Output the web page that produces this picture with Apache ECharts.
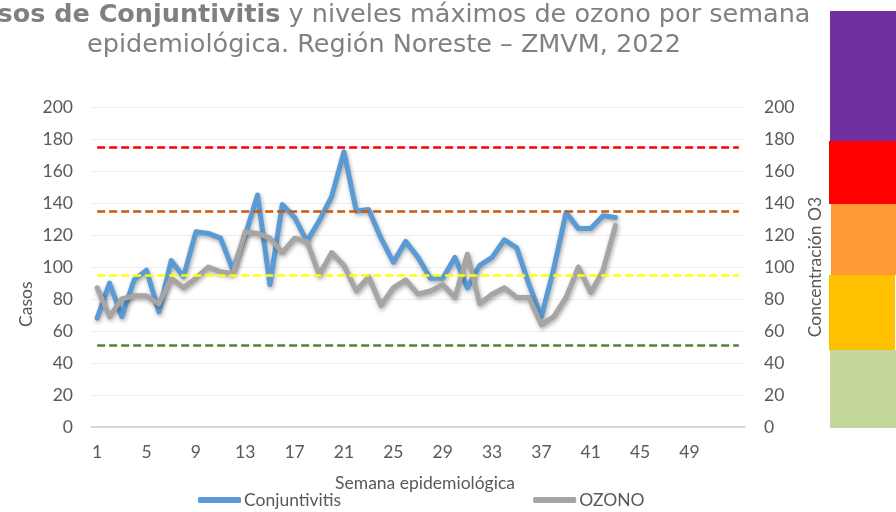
<!DOCTYPE html>
<html>
<head>
<meta charset="utf-8">
<script src="https://cdn.jsdelivr.net/npm/echarts@6/dist/echarts.min.js"></script>
<style>
  html, body { margin: 0; padding: 0; background: #fff; }
  #chart { width: 896px; height: 512px; }
</style>
</head>
<body>
<div id="chart"></div>
<script>
// Semanas epidemiológicas (53 posiciones en el eje)
const weeks = [
  "1", "2", "3", "4", "5", "6", "7", "8", "9", "10", "11", "12", "13", "14",
  "15", "16", "17", "18", "19", "20", "21", "22", "23", "24", "25", "26",
  "27", "28", "29", "30", "31", "32", "33", "34", "35", "36", "37", "38",
  "39", "40", "41", "42", "43", "44", "45", "46", "47", "48", "49", "50",
  "51", "52", "53",
];

const conjuntivitis = [
  68, 90, 69, 92, 98, 72, 104, 94, 122, 121,
  118, 98, 120, 145, 89, 139, 131, 116, 129, 144,
  172, 135, 136, 118, 103, 116, 106, 93, 93, 106,
  87, 101, 106, 117, 112, 89, 69, 99, 134, 124,
  124, 132, 131,
];

const ozono = [
  87, 69, 80, 82, 82, 77, 93, 87, 93, 100,
  97, 96, 122, 121, 118, 109, 118, 116, 95, 109,
  101, 85, 94, 76, 87, 92, 83, 85, 89, 81,
  108, 77, 83, 87, 81, 81, 64, 69, 81, 100,
  84, 98, 126,
];

// umbrales de calidad del aire (líneas punteadas)
const thresholdValues = [51, 95, 135, 175];
const thresholdColors = ["#548235", "#FFFF00", "#C55A11", "#FF0000"];

const axisFont = "Lato";
const axisSize = 17.5;
const labelColor = "#595959";
const titleFont = '25.5px "DejaVu Sans"';

const chart = echarts.init(document.getElementById("chart"), null, {
  renderer: "canvas",
});

const thresholdLines = thresholdValues.map((value, i) => [
  {
    coord: [weeks[0], value],
    lineStyle: { color: thresholdColors[i], width: 2.5, type: [8, 4] },
  },
  { coord: [weeks[weeks.length - 1], value] },
]);

const lineShadow = {
  shadowBlur: 4,
  shadowColor: "rgba(0,0,0,0.35)",
  shadowOffsetX: 1,
  shadowOffsetY: 2,
};

chart.setOption({
  animation: false,
  backgroundColor: "#fff",
  grid: { left: 91, right: 151, top: 107, bottom: 85 },
  graphic: [
    {
      type: "text",
      x: 386,
      y: 2,
      style: {
        text: "{b|Casos de Conjuntivitis} y niveles máximos de ozono por semana",
        align: "center",
        fill: "#808080",
        font: titleFont,
        rich: {
          b: { fontWeight: "bold", fontSize: 25.5, fontFamily: "DejaVu Sans", fill: "#808080" },
        },
      },
    },
    {
      type: "text",
      x: 384,
      y: 32,
      style: {
        text: "epidemiológica. Región Noreste – ZMVM, 2022",
        align: "center",
        fill: "#808080",
        font: titleFont,
      },
    },
    {
      type: "text",
      x: 17,
      y: 327,
      rotation: Math.PI / 2,
      style: {
        text: "Casos",
        fill: labelColor,
        font: axisSize + 'px "Lato"',
      },
    },
    // franjas de color de la escala de ozono
    { type: "rect", shape: { x: 830, y: 11, width: 66, height: 130 }, style: { fill: "#7030A0" } },
    { type: "rect", shape: { x: 829, y: 141, width: 67, height: 63 }, style: { fill: "#FF0000" } },
    { type: "rect", shape: { x: 831, y: 204, width: 65, height: 71 }, style: { fill: "#FF9933" } },
    { type: "rect", shape: { x: 829, y: 275, width: 66, height: 75 }, style: { fill: "#FFC000" } },
    { type: "rect", shape: { x: 830, y: 350, width: 66, height: 78 }, style: { fill: "#C4D79B" } },
  ],
  legend: {
    data: ["Conjuntivitis", "OZONO"],
    left: 193,
    bottom: -2,
    itemGap: 192,
    itemWidth: 43,
    itemHeight: 6,
    icon: "roundRect",
    textStyle: { color: labelColor, fontFamily: axisFont, fontSize: axisSize, padding: [0, 0, 0, -2] },
  },
  xAxis: {
    type: "category",
    data: weeks,
    boundaryGap: true,
    name: "Semana epidemiológica",
    nameLocation: "middle",
    nameGap: 47,
    nameTextStyle: {
      color: labelColor,
      fontFamily: axisFont,
      fontSize: axisSize,
      padding: [0, 0, 0, 14],
    },
    axisLine: { lineStyle: { color: "#D9D9D9", width: 2 } },
    axisTick: { show: false },
    axisLabel: {
      color: labelColor,
      fontFamily: axisFont,
      fontSize: axisSize,
      margin: 16,
      interval: (index) => index % 4 === 0 && index <= 48,
    },
  },
  yAxis: [
    {
      type: "value",
      min: 0,
      max: 200,
      interval: 20,
      axisLine: { show: false },
      axisTick: { show: false },
      axisLabel: { color: labelColor, fontFamily: axisFont, fontSize: axisSize, margin: 18 },
      splitLine: { lineStyle: { color: "#EEEEEE", width: 1 } },
    },
    {
      type: "value",
      min: 0,
      max: 200,
      interval: 20,
      name: "Concentración O3",
      nameLocation: "middle",
      nameGap: 61,
      nameTextStyle: { color: labelColor, fontFamily: axisFont, fontSize: axisSize },
      axisLine: { show: false },
      axisTick: { show: false },
      axisLabel: { color: labelColor, fontFamily: axisFont, fontSize: axisSize, margin: 19 },
      splitLine: { show: false },
    },
  ],
  series: [
    {
      name: "Umbrales",
      type: "line",
      data: [],
      silent: true,
      markLine: {
        symbol: "none",
        silent: true,
        label: { show: false },
        data: thresholdLines,
      },
    },
    {
      name: "Conjuntivitis",
      type: "line",
      data: conjuntivitis,
      yAxisIndex: 0,
      showSymbol: false,
      color: "#5B9BD5",
      lineStyle: { width: 5, join: "round", cap: "round", ...lineShadow },
    },
    {
      name: "OZONO",
      type: "line",
      data: ozono,
      yAxisIndex: 1,
      showSymbol: false,
      color: "#A5A5A5",
      lineStyle: { width: 5, join: "round", cap: "round", ...lineShadow },
    },
  ],
});
</script>
</body>
</html>
